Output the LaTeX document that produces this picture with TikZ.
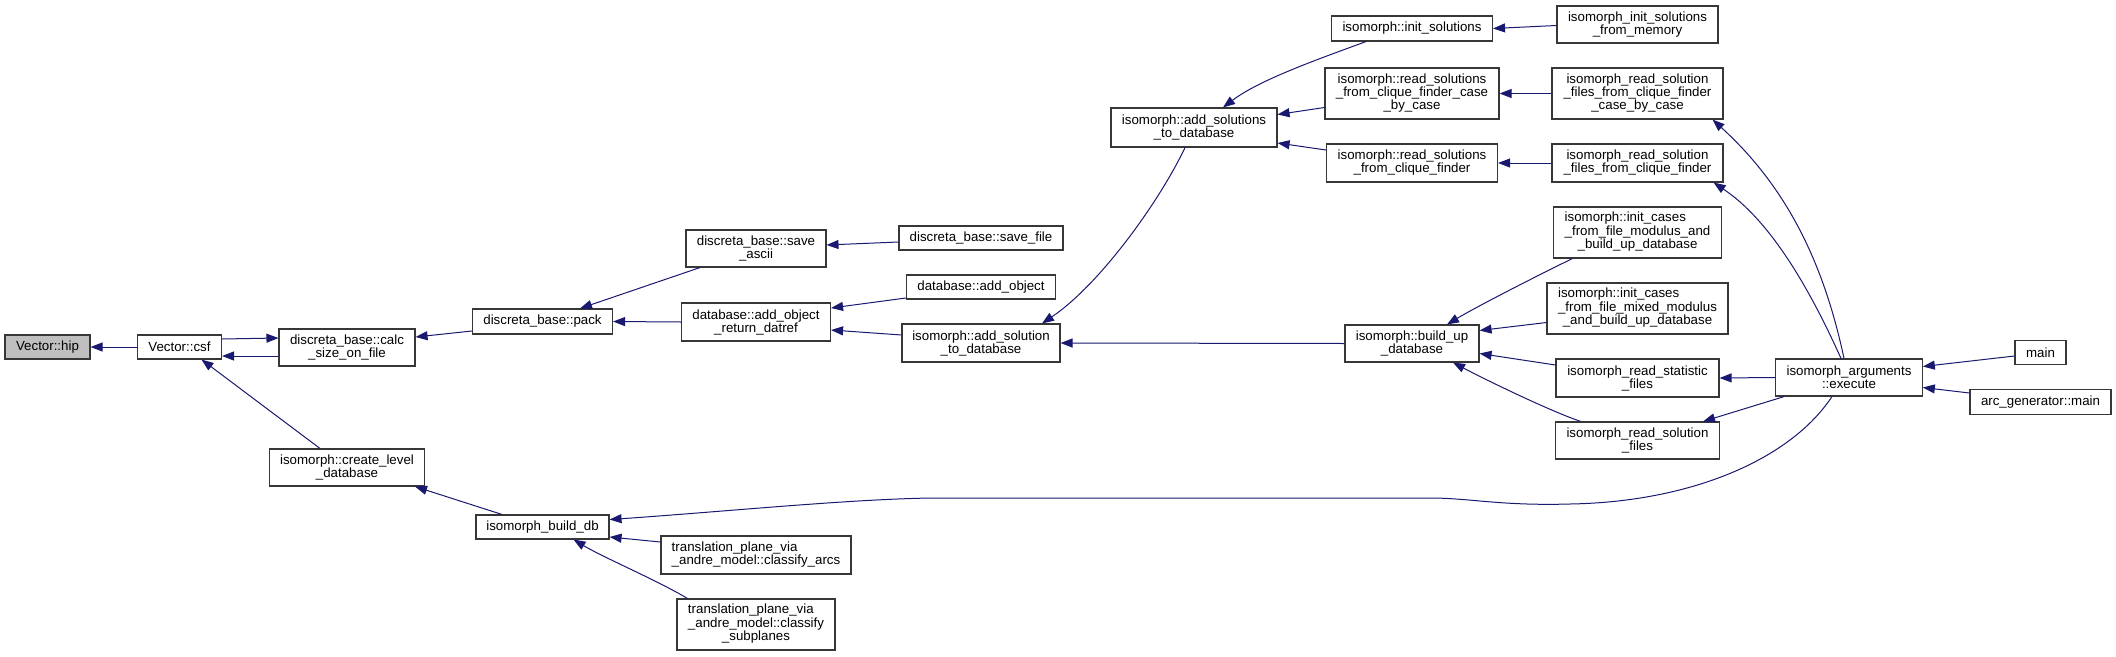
\documentclass[tikz,border=0pt]{standalone}
\usepackage{fontspec}
\setmainfont{Liberation Sans}
\usetikzlibrary{arrows.meta,calc}
\definecolor{edgec}{RGB}{25,25,112}
\definecolor{boxc}{RGB}{55,55,55}
\definecolor{hipc}{RGB}{191,191,191}
\begin{document}
\begin{tikzpicture}[x=1pt,y=-1pt,
  box/.style={draw=boxc,line width=1.1pt,fill=white,inner sep=0pt,align=center,font=\fontsize{13.3}{13}\selectfont},
  sz/.style 2 args={minimum width=#1pt,minimum height=#2pt},
  cx/.style={draw=edgec,line width=1pt,-{Triangle[length=12pt,width=9pt]}}]
\fill[white] (0,0) rectangle (2116,656);
\useasboundingbox (0,0) rectangle (2116,656);

% nodes
\node[box,sz={85}{24},fill=hipc] (hip) at (47.5,347) {Vector::hip};
\node[box,sz={84}{24}] (csf) at (179.5,347) {Vector::csf};
\node[box,sz={136}{37}] (calc) at (347,347.5) {discreta\_base::calc\\\_size\_on\_file};
\node[box,sz={155}{37}] (create) at (347,467.5) {isomorph::create\_level\\\_database};
\node[box,sz={140}{25}] (pack) at (542.5,321.5) {discreta\_base::pack};
\node[box,sz={133}{24}] (builddb) at (542.5,527) {isomorph\_build\_db};
\node[box,sz={190}{38}] (arcs) at (756,555) {\begin{tabular}{@{}l@{}}translation\_plane\_via\\\_andre\_model::classify\_arcs\end{tabular}};
\node[box,sz={158}{51}] (subpl) at (756,624.5) {\begin{tabular}{@{}l@{}}translation\_plane\_via\\\_andre\_model::classify\\\multicolumn{1}{@{}c@{}}{\_subplanes}\end{tabular}};
\node[box,sz={140}{37}] (saveascii) at (756,248.5) {discreta\_base::save\\\_ascii};
\node[box,sz={164}{24}] (savefile) at (981,238) {discreta\_base::save\_file};
\node[box,sz={149}{24}] (addobj) at (981,287) {database::add\_object};
\node[box,sz={149}{38}] (datref) at (756,322) {database::add\_object\\\_return\_datref};
\node[box,sz={158}{38}] (addsol) at (981,343) {isomorph::add\_solution\\\_to\_database};
\node[box,sz={134}{37}] (buildup) at (1412,343.5) {isomorph::build\_up\\\_database};
\node[box,sz={166}{39}] (addsols) at (1194,127.5) {isomorph::add\_solutions\\\_to\_database};
\node[box,sz={161}{25}] (initsol) at (1412,28.5) {isomorph::init\_solutions};
\node[box,sz={174}{51}] (readcbc) at (1412,93.5) {isomorph::read\_solutions\\\_from\_clique\_finder\_case\\\_by\_case};
\node[box,sz={171}{38}] (readcf) at (1412,163) {isomorph::read\_solutions\\\_from\_clique\_finder};
\node[box,sz={161}{37}] (mem) at (1637.5,24.5) {isomorph\_init\_solutions\\\_from\_memory};
\node[box,sz={171}{51}] (filescbc) at (1637.5,93.5) {isomorph\_read\_solution\\\_files\_from\_clique\_finder\\\_case\_by\_case};
\node[box,sz={171}{38}] (filescf) at (1637.5,163) {isomorph\_read\_solution\\\_files\_from\_clique\_finder};
\node[box,sz={168}{51}] (initmod) at (1637.5,232.5) {\begin{tabular}{@{}l@{}}isomorph::init\_cases\\\_from\_file\_modulus\_and\\\multicolumn{1}{@{}c@{}}{\_build\_up\_database}\end{tabular}};
\node[box,sz={181}{51}] (mixed) at (1637.5,308.5) {\begin{tabular}{@{}l@{}}isomorph::init\_cases\\\_from\_file\_mixed\_modulus\\\multicolumn{1}{@{}c@{}}{\_and\_build\_up\_database}\end{tabular}};
\node[box,sz={163}{38}] (stat) at (1637.5,378) {isomorph\_read\_statistic\\\_files};
\node[box,sz={164}{37}] (solfiles) at (1637.5,440.5) {isomorph\_read\_solution\\\_files};
\node[box,sz={146.5}{37}] (execute) at (1849,377.5) {isomorph\_arguments\\::execute};
\node[box,sz={51}{24.5}] (main) at (2040.5,352.5) {main};
\node[box,sz={141}{24.5}] (arcmain) at (2040.5,402) {arc\_generator::main};

% waypoints of the long connector
\coordinate (wa) at (1570,504);
\coordinate (wb) at (1430,498);
\coordinate (wc) at (933,498);

% connectors (caller -> callee)
\draw[cx] (csf.west) -- (hip.east);
\draw[cx] ($(csf.east)+(0,-8)$) -- ($(calc.west)+(0,-9.5)$);
\draw[cx] ($(calc.west)+(0,8.5)$) -- ($(csf.east)+(0,9)$);
\draw[cx] ($(create.north)+(-27,0)$) -- ($(csf.south)+(22,0)$);
\draw[cx] ($(pack.west)+(0,9.5)$) -- ($(calc.east)+(0,-10.5)$);
\draw[cx] ($(saveascii.south)+(-56,0)$) -- ($(pack.north)+(37.5,0)$);
\draw[cx] (datref.west) -- (pack.east);
\draw[cx] ($(savefile.west)+(0,4)$) -- ($(saveascii.east)+(0,-3.5)$);
\draw[cx] ($(addobj.west)+(0,11)$) -- ($(datref.east)+(0,-14)$);
\draw[cx] ($(addsol.west)+(0,-8)$) -- ($(datref.east)+(0,8)$);
\draw[cx] ($(addsols.south)+(-9,0)$) .. controls +(-25,53) and +(58,-39) .. ($(addsol.north)+(61,0)$);
\draw[cx] (buildup.west) -- (addsol.east);
\draw[cx] ($(initsol.south)+(-46,0)$) .. controls +(-46,17) and +(37,-28) .. ($(addsols.north)+(29,0)$);
\draw[cx] ($(readcbc.west)+(0,14)$) -- ($(addsols.east)+(0,-13)$);
\draw[cx] ($(readcf.west)+(0,-13)$) -- ($(addsols.east)+(0,15.5)$);
\draw[cx] ($(mem.west)+(0,1)$) -- (initsol.east);
\draw[cx] (filescbc.west) -- (readcbc.east);
\draw[cx] (filescf.west) -- (readcf.east);
\draw[cx] ($(execute.north)+(-5,0)$) .. controls +(-19,-89) and +(78,71) .. ($(filescbc.south east)+(-11,0)$);
\draw[cx] ($(execute.north)+(-8,0)$) .. controls +(-31,-69) and +(57,38) .. ($(filescf.south east)+(-10,0)$);
\draw[cx] ($(initmod.south west)+(19.5,0)$) .. controls +(-35,17) and +(30,-18) .. ($(buildup.north)+(35,0)$);
\draw[cx] ($(mixed.west)+(0,14)$) -- ($(buildup.east)+(0,-13)$);
\draw[cx] ($(stat.west)+(0,-13)$) -- ($(buildup.east)+(0,10)$);
\draw[cx] ($(solfiles.north west)+(26,0)$) .. controls +(-25,-8) and +(40,21) .. ($(buildup.south)+(41,0)$);
\draw[cx] (execute.west) -- (stat.east);
\draw[cx] ($(execute.south west)+(9,0)$) -- ($(solfiles.north east)+(-17,0)$);
\draw[cx] ($(main.west)+(0,3.5)$) -- ($(execute.east)+(0,-11)$);
\draw[cx] ($(arcmain.west)+(0,-9)$) -- ($(execute.east)+(0,10)$);
\draw[cx] ($(builddb.north)+(-40.5,0)$) -- ($(create.south)+(68,0)$);
\draw[cx] ($(execute.south)+(-17,0)$) .. controls (1790,460) and (1690,502) .. (wa)
  .. controls (1500,506) and (1470,498) .. (wb) -- (wc)
  .. controls (850,499) and (720,512) .. ($(builddb.east)+(0,-7.5)$);
\draw[cx] ($(arcs.west)+(0,-13)$) -- ($(builddb.east)+(0,10)$);
\draw[cx] ($(subpl.north west)+(11,0)$) .. controls +(-30,-18) and +(30,18) .. ($(builddb.south)+(31,0)$);
\end{tikzpicture}
\end{document}
